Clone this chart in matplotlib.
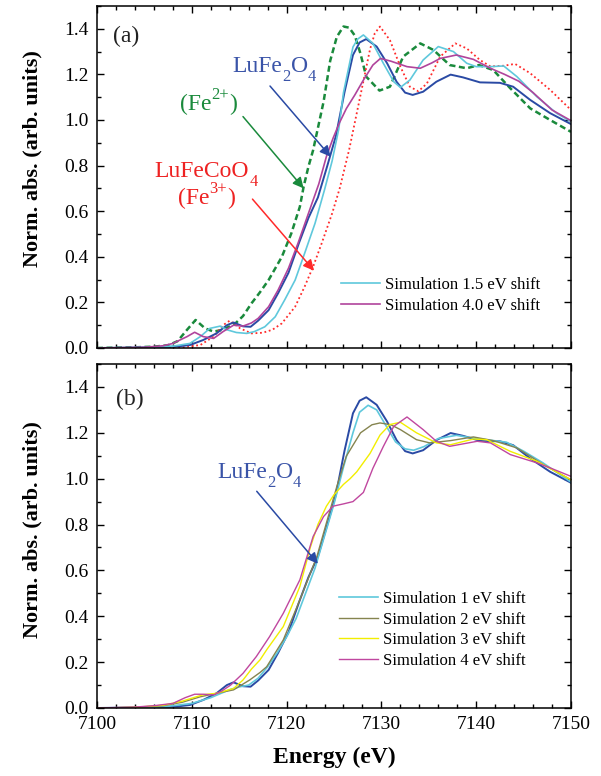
import matplotlib
matplotlib.use('Agg')
import matplotlib.pyplot as plt
from matplotlib.ticker import MultipleLocator
from matplotlib.transforms import offset_copy

plt.rcParams['font.family'] = 'serif'
plt.rcParams['font.serif'] = ['Liberation Serif', 'DejaVu Serif']

# measured LuFe2O4 edge (both panels)
e_exp = [7100, 7104, 7107, 7108.5, 7109.8, 7111.2, 7112.6, 7113.7, 7114.4, 7115.4, 7116.2, 7117.0,
         7118.1, 7119.1, 7120.2, 7121.3, 7122.3, 7123.3, 7124.3, 7125.2, 7126.1, 7127.0, 7127.7,
         7128.4, 7129.5, 7130.6, 7131.6, 7132.5, 7133.3, 7134.4, 7135.8, 7137.3, 7138.6, 7140.4,
         7142.5, 7143.9, 7145.7, 7147.8, 7150]
mu_exp = [0.0, 0.002, 0.004, 0.007, 0.013, 0.035, 0.064, 0.10, 0.112, 0.095, 0.093, 0.12,
          0.166, 0.24, 0.33, 0.46, 0.57, 0.66, 0.80, 0.93, 1.12, 1.285, 1.34,
          1.355, 1.322, 1.249, 1.168, 1.12, 1.11, 1.124, 1.168, 1.199, 1.187, 1.165,
          1.163, 1.146, 1.088, 1.03, 0.982]

# Fe2+ reference
e_fe2 = [7100, 7104, 7106, 7107.5, 7108.5, 7109.5, 7110.4, 7111.4, 7112.3, 7113.3, 7114.6, 7115.4,
         7116.3, 7117.2, 7118.1, 7119.5, 7120.5, 7121.4, 7121.8, 7122.3, 7122.8, 7123.9, 7124.6,
         7125.3, 7126.0, 7126.6, 7127.2, 7127.8, 7128.4, 7129.8, 7130.9, 7132.3, 7134.1, 7135.5,
         7137.2, 7139.0, 7140.3, 7141.8, 7143.6, 7145.7, 7147.8, 7150]
mu_fe2 = [0.0, 0.003, 0.006, 0.012, 0.03, 0.08, 0.123, 0.086, 0.072, 0.08, 0.108, 0.14,
          0.196, 0.245, 0.298, 0.40, 0.503, 0.62, 0.708, 0.795, 0.868, 1.08, 1.26,
          1.365, 1.41, 1.405, 1.37, 1.29, 1.19, 1.129, 1.146, 1.278, 1.336, 1.307,
          1.241, 1.227, 1.241, 1.219, 1.139, 1.051, 1.0, 0.948]

# LuFeCoO4, Fe3+ reference
e_fe3 = [7100, 7106, 7109, 7110.9, 7112.3, 7113.3, 7114.0, 7115.1, 7116.3, 7117.5, 7118.5, 7119.5,
         7120.9, 7121.9, 7122.8, 7123.7, 7124.8, 7125.6, 7126.6, 7127.7, 7128.8, 7129.3, 7129.85,
         7130.9, 7132.0, 7133.0, 7133.9, 7134.8, 7136.2, 7137.8, 7139.0, 7140.4, 7141.5, 7142.9,
         7144.1, 7145.7, 7147.8, 7150]
mu_fe3 = [0.0, 0.0, 0.003, 0.013, 0.05, 0.10, 0.12, 0.086, 0.064, 0.067, 0.08, 0.108,
          0.181, 0.269, 0.357, 0.459, 0.59, 0.70, 0.87, 1.09, 1.31, 1.38, 1.41,
          1.35, 1.234, 1.146, 1.126, 1.16, 1.278, 1.336, 1.314, 1.263, 1.235, 1.238,
          1.246, 1.205, 1.132, 1.044]

# simulations, panel (a)
e_s15 = [7100, 7105, 7108, 7109.8, 7110.9, 7111.9, 7113.0, 7113.7, 7114.7, 7115.8, 7116.6, 7117.7,
         7118.8, 7119.8, 7120.9, 7121.9, 7123.0, 7124.0, 7124.8, 7125.5, 7126.0, 7127.0, 7127.5,
         7128.1, 7129.1, 7130.2, 7131.3, 7132.0, 7133.0, 7134.4, 7136.0, 7137.6, 7139.0, 7140.0,
         7141.5, 7142.9, 7144.3, 7146.4, 7148.5, 7150]
mu_s15 = [0.0, 0.002, 0.008, 0.02, 0.05, 0.086, 0.096, 0.08, 0.068, 0.064, 0.072, 0.093,
          0.137, 0.211, 0.298, 0.415, 0.547, 0.694, 0.82, 0.96, 1.12, 1.32, 1.355,
          1.373, 1.336, 1.249, 1.168, 1.143, 1.175, 1.263, 1.322, 1.30, 1.249, 1.234,
          1.234, 1.237, 1.19, 1.102, 1.029, 0.993]

e_s40 = [7100, 7105, 7107, 7108, 7109.5, 7110.3, 7111.2, 7112.3, 7113.3, 7114.4, 7115.4, 7116.3,
         7117.0, 7118.1, 7119.1, 7120.2, 7121.2, 7122.3, 7123.4, 7124.2, 7124.9, 7125.6, 7126.3,
         7127.2, 7128.1, 7129.1, 7129.9, 7131.0, 7132.7, 7134.1, 7135.3, 7136.2, 7137.9, 7139.7,
         7141.5, 7143.0, 7144.5, 7146.0, 7148.0, 7150]
mu_s40 = [0.0, 0.003, 0.01, 0.02, 0.05, 0.069, 0.05, 0.042, 0.072, 0.10, 0.096, 0.11,
          0.13, 0.181, 0.254, 0.35, 0.459, 0.59, 0.72, 0.84, 0.92, 0.99, 1.05,
          1.11, 1.175, 1.241, 1.27, 1.258, 1.234, 1.227, 1.25, 1.27, 1.285, 1.266,
          1.227, 1.2, 1.17, 1.12, 1.044, 0.997]

# simulations, panel (b)
e_s1 = [7100, 7104, 7107, 7108, 7110, 7112, 7114, 7115, 7116, 7117, 7118, 7119, 7120, 7121, 7122,
        7123, 7124, 7125, 7126, 7127, 7127.7, 7128.6, 7129.5, 7130.5, 7131.5, 7132.5, 7133.4,
        7134.5, 7136, 7137.9, 7140, 7143.2, 7145, 7147, 7150]
mu_s1 = [0.0, 0.002, 0.005, 0.01, 0.02, 0.045, 0.08, 0.092, 0.1, 0.13, 0.18, 0.24, 0.31, 0.39, 0.50,
         0.61, 0.75, 0.89, 1.05, 1.2, 1.29, 1.32, 1.3, 1.23, 1.16, 1.13, 1.124,
         1.14, 1.175, 1.189, 1.175, 1.159, 1.12, 1.07, 0.985]

e_s2 = [7100, 7104, 7107, 7109, 7110.9, 7112.6, 7114.4, 7116.1, 7117.2, 7117.9, 7119.65, 7121.4,
        7123.2, 7124.2, 7125.3, 7126.3, 7127.8, 7129.0, 7129.85, 7131.0, 7132, 7133.7, 7135.1,
        7137.3, 7139.7, 7141.8, 7144.3, 7147.1, 7150]
mu_s2 = [0.0, 0.003, 0.01, 0.025, 0.049, 0.064, 0.079, 0.122, 0.155, 0.18, 0.297, 0.472,
         0.661, 0.807, 0.966, 1.098, 1.2, 1.235, 1.243, 1.235, 1.214, 1.17, 1.156,
         1.166, 1.182, 1.166, 1.134, 1.061, 0.995]

e_s3 = [7100, 7104, 7107, 7109, 7111.2, 7112.6, 7114.4, 7115.4, 7116.3, 7117.2, 7117.9, 7119.65,
        7121.4, 7122.5, 7123.3, 7124.2, 7125.0, 7126.0, 7126.7, 7127.4, 7128.1, 7128.8, 7129.85,
        7130.9, 7132.0, 7133.7, 7135.8, 7137.3, 7139.7, 7141.1, 7143.6, 7146.4, 7150]
mu_s3 = [0.0, 0.003, 0.012, 0.03, 0.058, 0.064, 0.085, 0.122, 0.17, 0.21, 0.254, 0.355,
         0.53, 0.70, 0.80, 0.88, 0.93, 0.975, 1.0, 1.03, 1.07, 1.11, 1.19,
         1.236, 1.246, 1.2, 1.156, 1.148, 1.173, 1.17, 1.119, 1.076, 0.995]

e_s4 = [7100, 7104, 7106, 7108, 7109.3, 7110.3, 7111.2, 7112.3, 7113.2, 7114.1, 7115.4, 7116.8,
        7118.2, 7119.65, 7121.4, 7122.8, 7123.9, 7124.9, 7126.0, 7127.0, 7128.1, 7129.1, 7130.2,
        7131.3, 7132.7, 7134.4, 7135.8, 7137.2, 7140.1, 7141.5, 7143.6, 7146.4, 7147.8, 7150]
mu_s4 = [0.0, 0.004, 0.01, 0.02, 0.045, 0.06, 0.06, 0.057, 0.075, 0.1, 0.151, 0.224,
         0.311, 0.413, 0.559, 0.748, 0.835, 0.88, 0.89, 0.9, 0.94, 1.045, 1.14,
         1.228, 1.269, 1.214, 1.163, 1.141, 1.163, 1.156, 1.105, 1.069, 1.047, 1.01]

c_exp = '#2a4aa4'
c_cyan = '#5fc8dc'
c_mag = '#b0449c'
c_green = '#1a8a3c'
c_red = '#ff2a2a'
c_olive = '#85844f'
c_yellow = '#f2ee00'

fig = plt.figure(figsize=(6.01, 7.76), dpi=100)
ax1 = fig.add_axes([97 / 601, 1 - 348 / 776, 474 / 601, 342 / 776])
ax2 = fig.add_axes([97 / 601, 1 - 708 / 776, 474 / 601, 344 / 776])
renderer = fig.canvas.get_renderer()


def style_axis(ax, label_y):
    ax.set_xlim(7100, 7150)
    ax.set_ylim(0, 1.5)
    ax.xaxis.set_major_locator(MultipleLocator(10))
    ax.xaxis.set_minor_locator(MultipleLocator(2))
    ax.yaxis.set_major_locator(MultipleLocator(0.2))
    ax.yaxis.set_minor_locator(MultipleLocator(0.1))
    ax.yaxis.set_major_formatter(plt.FormatStrFormatter('%.1f'))
    ax.tick_params(which='both', direction='in', top=True, right=True, width=1.0,
                   labelsize=14, pad=6)
    ax.tick_params(which='major', length=5)
    ax.tick_params(which='minor', length=3)
    for sp in ax.spines.values():
        sp.set_linewidth(1.1)
    ax.set_ylabel('Norm. abs. (arb. units)', fontsize=16, fontweight='bold')
    ax.yaxis.set_label_coords(-0.116, label_y)


def chem(ax, x, y, parts, color, fs=17):
    # draw a formula piece by piece: 'n' normal, 'b' subscript, 'p' superscript
    shift = 0.0
    for s, kind in parts:
        size = fs if kind == 'n' else fs * 0.7
        dy = {'n': 0.0, 'b': -0.40 * fs, 'p': 0.45 * fs}[kind]
        tr = offset_copy(ax.transData, fig=fig, x=shift, y=dy, units='points')
        t = ax.text(x, y, s, fontsize=size, color=color, ha='left', va='baseline', transform=tr)
        shift += t.get_window_extent(renderer).width * 72.0 / fig.dpi


# panel (a)
ax1.plot(e_fe2, mu_fe2, color=c_green, lw=1.8, dashes=(2.4, 1.4))
ax1.plot(e_fe3, mu_fe3, color=c_red, lw=1.3, dashes=(1.0, 1.5))
ax1.plot(e_exp, mu_exp, color=c_exp, lw=1.4)
l15, = ax1.plot(e_s15, mu_s15, color=c_cyan, lw=1.2, label='Simulation 1.5 eV shift')
l40, = ax1.plot(e_s40, mu_s40, color=c_mag, lw=1.2, label='Simulation 4.0 eV shift')
style_axis(ax1, 0.553)
ax1.tick_params(labelbottom=False)
ax1.text(0.034, 0.896, '(a)', transform=ax1.transAxes, fontsize=17, color='#222222')

arrow = dict(arrowstyle='-|>', lw=1.1, mutation_scale=16, shrinkA=0, shrinkB=0)
chem(ax1, 7114.3, 1.212, [('LuFe', 'n'), ('2', 'b'), ('O', 'n'), ('4', 'b')], '#3a54a8')
ax1.annotate('', xy=(7124.65, 0.839), xytext=(7118.25, 1.149),
             arrowprops=dict(arrow, color=c_exp))
chem(ax1, 7108.75, 1.045, [('(Fe', 'n'), ('2+', 'p'), (')', 'n')], c_green)
ax1.annotate('', xy=(7121.8, 0.70), xytext=(7115.4, 1.015),
             arrowprops=dict(arrow, color=c_green))
chem(ax1, 7106.1, 0.751, [('LuFeCoO', 'n'), ('4', 'b')], '#ee2222')
chem(ax1, 7108.5, 0.632, [('(Fe', 'n'), ('3+', 'p'), (')', 'n')], '#ee2222')
ax1.annotate('', xy=(7122.9, 0.339), xytext=(7116.4, 0.653),
             arrowprops=dict(arrow, color=c_red))
ax1.legend(handles=[l15, l40], loc='upper left', bbox_to_anchor=(0.515, 0.207),
           frameon=False, fontsize=12, handlelength=2.35, handletextpad=0.3,
           labelspacing=0.27, borderpad=0, borderaxespad=0)

# panel (b)
ax2.plot(e_exp, mu_exp, color=c_exp, lw=1.4)
s1, = ax2.plot(e_s1, mu_s1, color=c_cyan, lw=1.2, label='Simulation 1 eV shift')
s2, = ax2.plot(e_s2, mu_s2, color=c_olive, lw=1.0, label='Simulation 2 eV shift')
s3, = ax2.plot(e_s3, mu_s3, color=c_yellow, lw=1.0, label='Simulation 3 eV shift')
s4, = ax2.plot(e_s4, mu_s4, color='#c0479f', lw=1.0, label='Simulation 4 eV shift')
style_axis(ax2, 0.52)
ax2.text(0.04, 0.881, '(b)', transform=ax2.transAxes, fontsize=17, color='#222222')
chem(ax2, 7112.7, 1.003, [('LuFe', 'n'), ('2', 'b'), ('O', 'n'), ('4', 'b')], '#3a54a8')
ax2.annotate('', xy=(7123.3, 0.629), xytext=(7116.85, 0.945),
             arrowprops=dict(arrow, color=c_exp))
ax2.legend(handles=[s1, s2, s3, s4], loc='upper left', bbox_to_anchor=(0.51, 0.34),
           frameon=False, fontsize=12, handlelength=2.35, handletextpad=0.3,
           labelspacing=0.27, borderpad=0, borderaxespad=0)
ax2.set_xlabel('Energy (eV)', fontsize=17, fontweight='bold', labelpad=10)

fig.savefig('out.png', dpi=100)
